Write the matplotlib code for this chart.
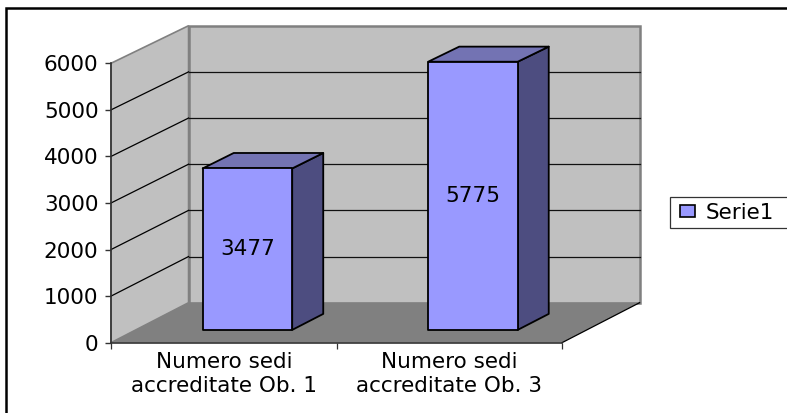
import matplotlib
matplotlib.use("Agg")
import matplotlib.pyplot as plt
from matplotlib.patches import Polygon, Rectangle, Patch

categories = ["Numero sedi\naccreditate Ob. 1", "Numero sedi\naccreditate Ob. 3"]
values = [3477, 5775]
yticks = [0, 1000, 2000, 3000, 4000, 5000, 6000]
series_name = "Serie1"

# fake 3D: depth z (0 front, 1 back) shifts a point right and up, back shrinks a bit
DX = 0.344
DY = 859
SHRINK = 0.0086
Z1, Z2 = 0.32, 0.72
BAR_W = 0.397
BAR_SHIFT = -0.005
YMAX = 6000

C_FRONT = "#9999ff"
C_SIDE = "#4d4d80"
C_TOP = "#7373b3"
C_WALL = "#c0c0c0"
C_FLOOR = "#808080"


def pr(x, y, z):
    return (x + z * DX, y * (1 - SHRINK * z) + z * DY)


fig = plt.figure(figsize=(7.87, 4.13), dpi=100)
plt.rcParams["font.family"] = "DejaVu Sans"
W, H = 787.0, 413.0
ax = fig.add_axes([111 / W, (H - 342.7) / H, 451 / W, 279.4 / H])
ax.set_xlim(0, len(categories))
ax.set_ylim(0, YMAX)
ax.patch.set_visible(False)

fig.add_artist(Rectangle((6 / W, -0.02), 2, 1.0, transform=fig.transFigure, fill=False,
                         edgecolor="black", linewidth=1.8))

n = len(categories)
# walls and floor
ax.add_patch(Polygon([pr(0, 0, 0), pr(0, 0, 1), pr(0, YMAX, 1), pr(0, YMAX, 0)], closed=True,
                     facecolor=C_WALL, edgecolor=C_FLOOR, linewidth=1.2, clip_on=False, zorder=1))
ax.add_patch(Polygon([pr(0, 0, 1), pr(n, 0, 1), pr(n, YMAX, 1), pr(0, YMAX, 1)], closed=True,
                     facecolor=C_WALL, edgecolor=C_FLOOR, linewidth=1.8, clip_on=False, zorder=1))
ax.add_patch(Polygon([pr(0, 0, 0), pr(n, 0, 0), pr(n, 0, 1), pr(0, 0, 1)], closed=True,
                     facecolor=C_FLOOR, edgecolor="none", clip_on=False, zorder=1))
x0, y0 = pr(n, 0, 0)
x1, y1 = pr(n, 0, 1)
ax.plot([x0, x1], [y0, y1], color="black", lw=0.9, clip_on=False, zorder=2)

# gridlines, back wall and side wall
for t in yticks[1:-1]:
    a = pr(0, t, 0)
    b = pr(0, t, 1)
    c = pr(n, t, 1)
    ax.plot([a[0], b[0]], [a[1], b[1]], color="black", lw=0.9, clip_on=False, zorder=2)
    ax.plot([b[0], c[0]], [b[1], c[1]], color="#111111", lw=0.9, clip_on=False, zorder=2)

# bars
for i, v in enumerate(values):
    l = i + 0.5 - BAR_W / 2 + BAR_SHIFT
    r = i + 0.5 + BAR_W / 2 + BAR_SHIFT
    kw = dict(closed=True, edgecolor="black", linewidth=1.3, joinstyle="round", clip_on=False, zorder=3)
    ax.add_patch(Polygon([pr(r, 0, Z1), pr(r, 0, Z2), pr(r, v, Z2), pr(r, v, Z1)], facecolor=C_SIDE, **kw))
    ax.add_patch(Polygon([pr(l, v, Z1), pr(r, v, Z1), pr(r, v, Z2), pr(l, v, Z2)], facecolor=C_TOP, **kw))
    ax.add_patch(Polygon([pr(l, 0, Z1), pr(r, 0, Z1), pr(r, v, Z1), pr(l, v, Z1)], facecolor=C_FRONT, **kw))
    tx, ty = pr(i + 0.5 + BAR_SHIFT, v / 2, Z1)
    ax.text(tx, ty, str(v), ha="center", va="center", fontsize=15.5, color="black", zorder=4)

# axes
for s in ["top", "right"]:
    ax.spines[s].set_visible(False)
for s in ["left", "bottom"]:
    ax.spines[s].set_color("#333333")
    ax.spines[s].set_linewidth(1.2)
    ax.spines[s].set_zorder(5)
ax.set_yticks(yticks)
ax.tick_params(axis="y", length=4, width=1.0, color="#333333", labelsize=15.5, pad=5)
ax.set_xticks(range(n + 1))
ax.set_xticklabels([])
ax.tick_params(axis="x", which="major", length=4, width=0.9, color="#333333")
ax.set_xticks([i + 0.5 for i in range(n)], minor=True)
ax.set_xticklabels(categories, minor=True, fontsize=15.5, linespacing=1.2)
ax.tick_params(axis="x", which="minor", length=0, pad=7)

# legend frame drawn apart: it is wider than it is padded
fig.add_artist(Rectangle((669.5 / W, (H - 228.3) / H), 130 / W, 31 / H, transform=fig.transFigure,
                         facecolor="white", edgecolor="#333333", linewidth=0.9))
leg = fig.legend(handles=[Patch(facecolor=C_FRONT, edgecolor="black", linewidth=1.2, label=series_name)],
                 loc="center left", bbox_to_anchor=(669.5 / W, (H - 212.8) / H), borderaxespad=0,
                 fontsize=15.5, frameon=False,
                 handlelength=0.7, handleheight=0.46, handletextpad=0.5, borderpad=0.5)

fig.savefig("out.png", dpi=100)
